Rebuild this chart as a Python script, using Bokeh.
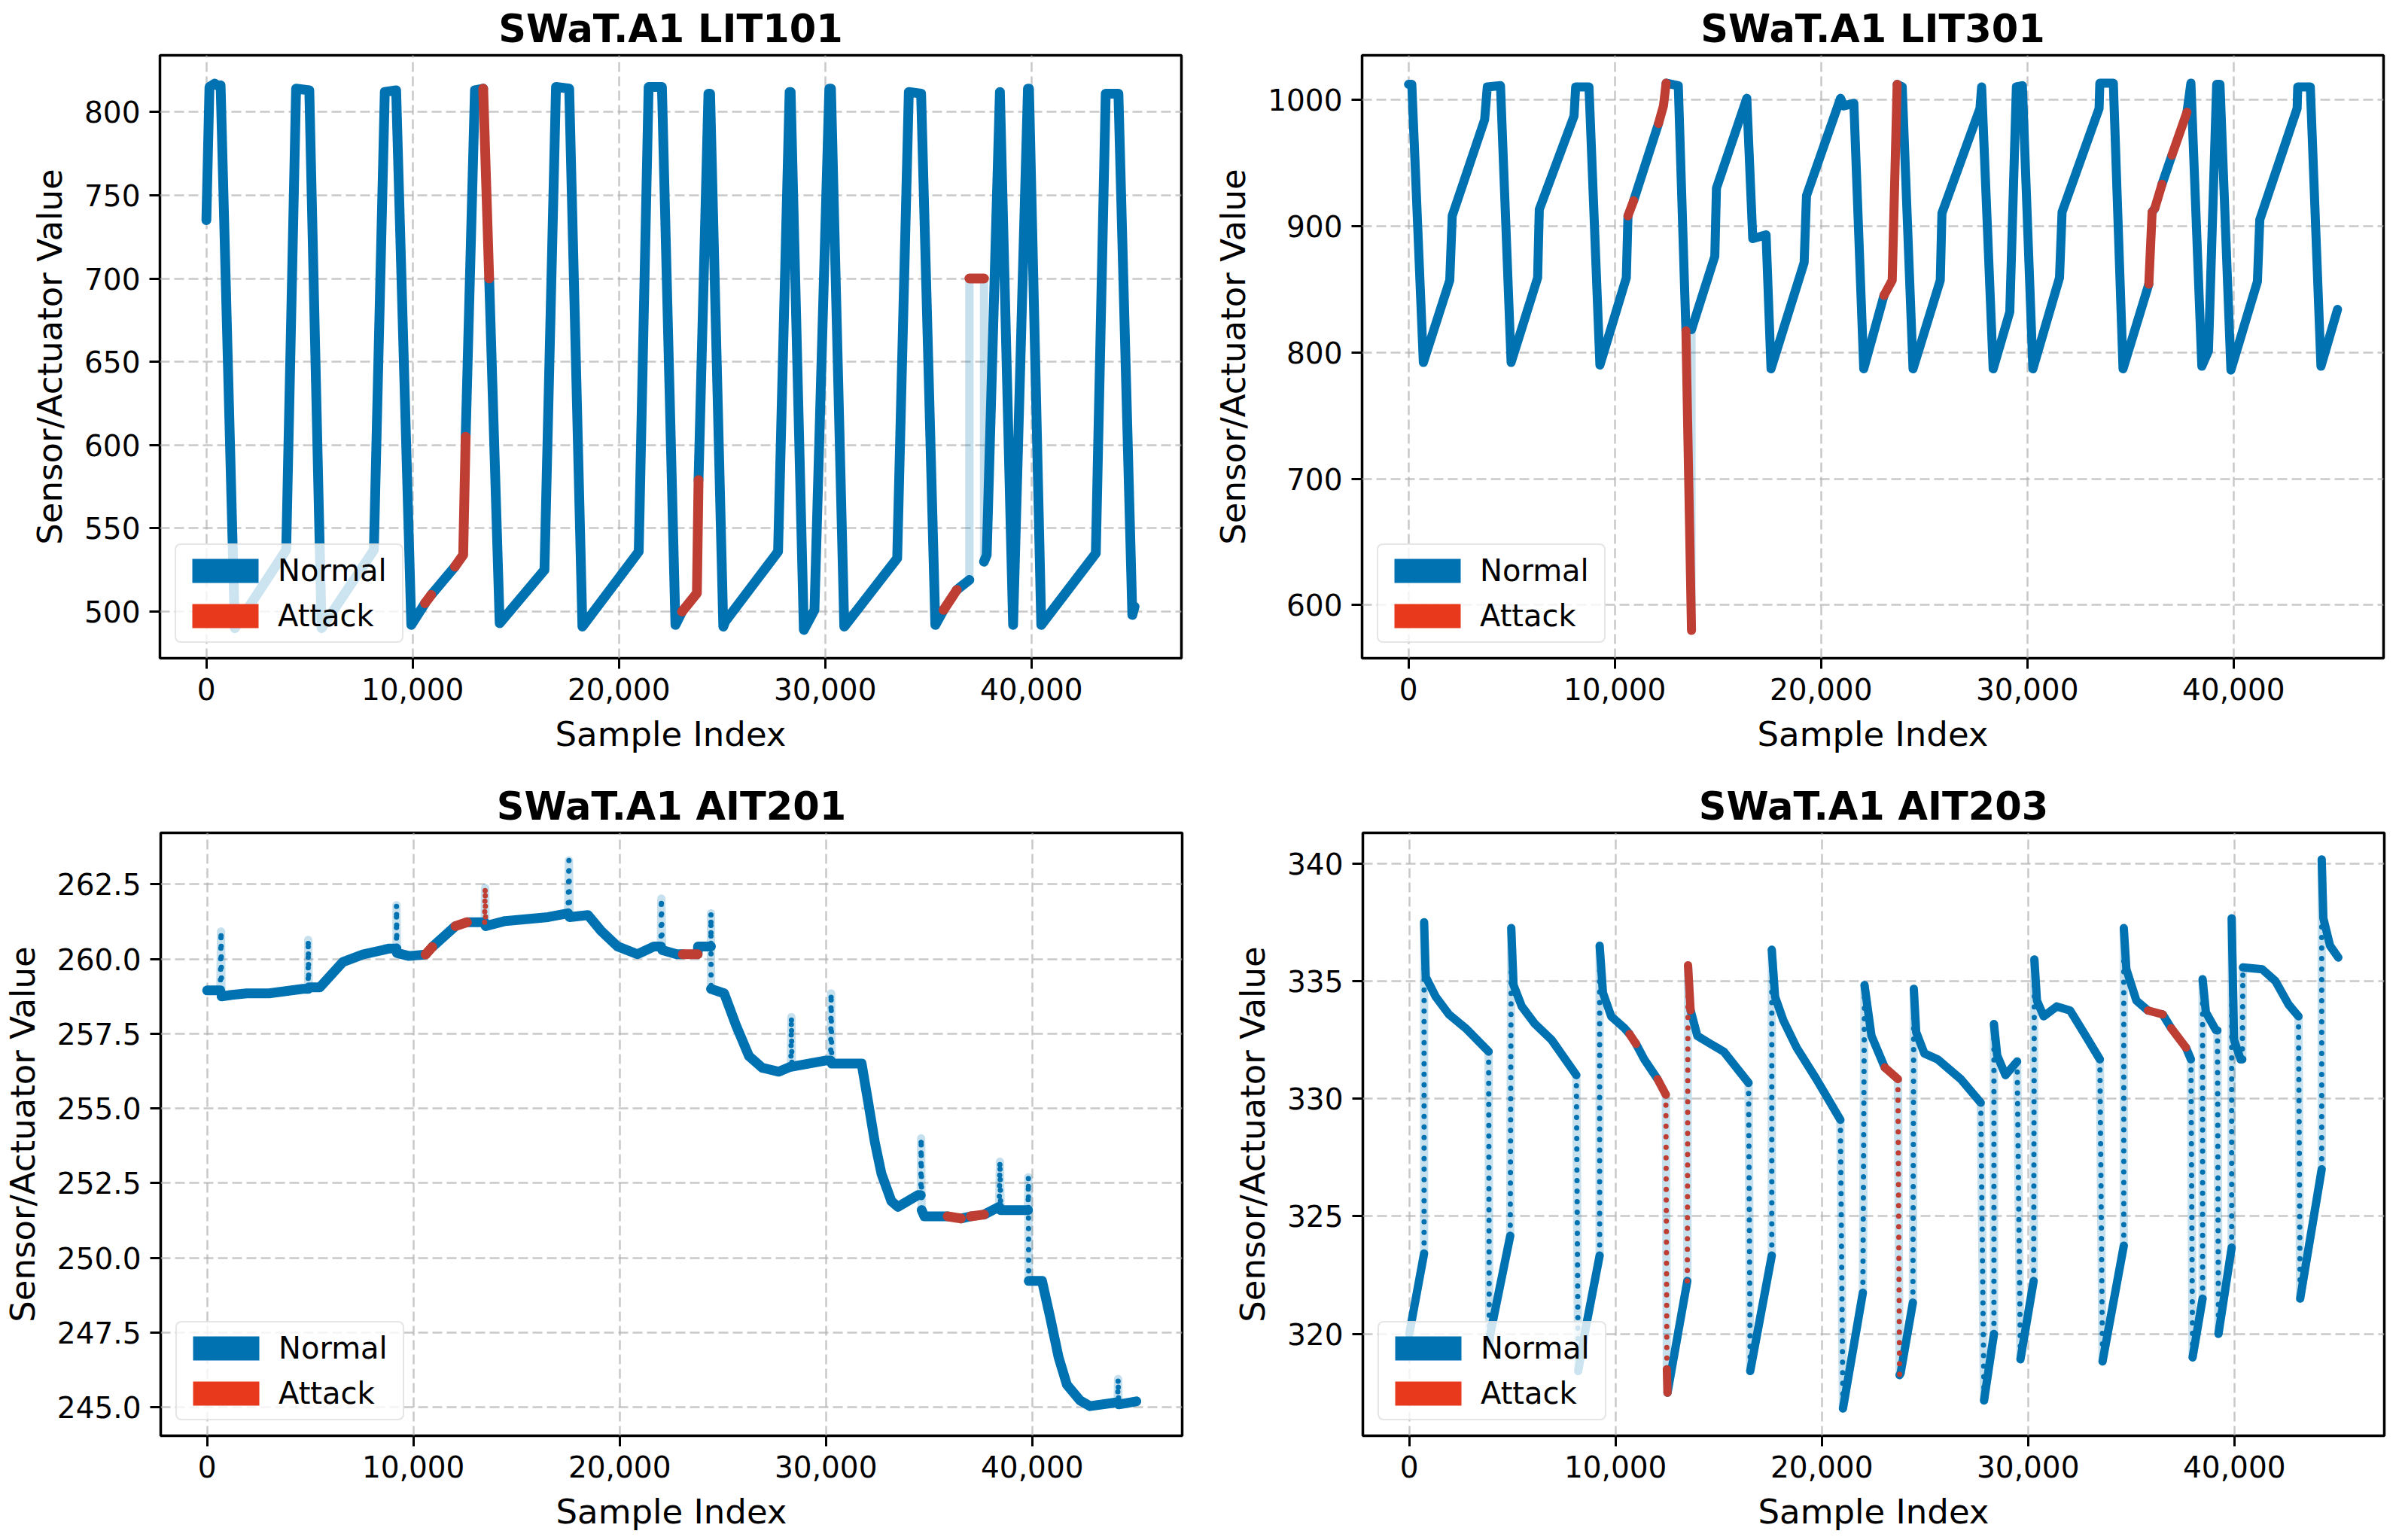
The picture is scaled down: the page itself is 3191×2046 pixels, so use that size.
from bokeh.plotting import figure
from bokeh.models import FixedTicker, NumeralTickFormatter, Legend, LegendItem, Range1d
from bokeh.layouts import column, row
from bokeh.embed import file_html
from bokeh.resources import INLINE

# ---------------- data (vertices) ----------------
# K gives the kind of the segment that starts at each vertex:
# n = normal dense, a = attack dense, j = normal sparse jump,
# r = attack sparse jump, g = gap (connecting line only), - = end
LIT101_X = [0, 150, 400, 660, 690, 1380, 3870, 4350,
            4990, 5585, 8120, 8650, 9200, 9935, 10600, 10900,
            12050, 12450, 12570, 13020, 13420, 13710, 14220, 16390,
            16950, 17590, 18230, 20960, 21440, 22085, 22740, 23060,
            23780, 23860, 24340, 24420, 25060, 25150, 27715, 28275,
            28325, 28965, 29480, 30200, 30280, 30925, 33490, 34055,
            34650, 35340, 35740, 36380, 36990, 36990, 37700, 37700,
            37830, 38470, 39110, 39830, 39880, 40475, 43120, 43600,
            44215, 44890, 45000]
LIT101_Y = [735, 815, 817, 815, 816, 490, 537, 814,
            813, 490, 537, 812, 813, 492, 505, 510,
            527, 534, 605, 813, 814, 700, 493, 525,
            815, 814, 491, 536, 815, 815, 492, 500,
            511, 579, 811, 811, 491, 494, 536, 812,
            812, 489, 501, 814, 814, 491, 532, 812,
            811, 492, 501, 513, 519, 700, 700, 530,
            534, 812, 492, 814, 814, 492, 535, 811,
            811, 498, 503]
LIT101_K = ("nnnnnnnn" "nnnnnnan" "aannannn" "nnnnnnna" "annnnnnn"
            "nnnnnnnn" "nnangagn" "nnnnnnnn" "nn-")

LIT301_X = [0, 160, 720, 2000, 2120, 3690, 3820, 4460,
            4975, 6260, 6340, 8025, 8105, 8750, 9280, 10560,
            10640, 10915, 12120, 12360, 12490, 13080, 13450, 13720,
            13720, 14850, 14930, 16400, 16690, 17335, 17575, 19180,
            19295, 20945, 21100, 21590, 22070, 23050, 23450, 23690,
            23935, 24460, 25780, 25860, 27705, 27785, 28345, 29150,
            29470, 29760, 30270, 31560, 31685, 33480, 33515, 34170,
            34640, 35890, 36050, 36180, 36530, 37010, 37740, 37930,
            38460, 38780, 39180, 39340, 39870, 41155, 41270, 43080,
            43110, 43720, 44235, 45040]
LIT301_Y = [1012, 1012, 792, 857, 908, 984, 1010, 1011,
            792, 859, 913, 987, 1010, 1010, 790, 859,
            908, 920, 981, 995, 1013, 1011, 817, 580,
            818, 876, 930, 1001, 890, 893, 787, 871,
            924, 1001, 995, 997, 787, 845, 857, 1012,
            1010, 787, 857, 910, 993, 1010, 787, 832,
            1010, 1011, 787, 859, 911, 993, 1013, 1013,
            787, 854, 911, 914, 933, 956, 990, 1013,
            789, 801, 1012, 1012, 786, 856, 905, 993,
            1010, 1010, 789, 834]
LIT301_K = ("nnnnnnnn" "nnnnnnnn" "anaannag" "nnnnnnnn" "nnnnnaan"
            "nnnnnnnn" "nnnnnnnn" "nananann" "nnnnnnnn" "nnn-")

AIT201_X = [0, 640, 675, 700, 1200, 1925, 3000, 4650,
            4900, 4900, 4930, 5460, 6580, 7545, 8830, 9180,
            9180, 9200, 9790, 10590, 10915, 12040, 12600, 13450,
            13480, 13500, 14445, 16530, 17500, 17540, 17575, 18460,
            19100, 19900, 20865, 21670, 22000, 22020, 22060, 22760,
            23060, 23780, 23800, 24425, 24425, 24430, 25065, 25630,
            26270, 26912, 27715, 28300, 28325, 28350, 29960, 30230,
            30250, 30280, 31730, 32050, 32370, 32690, 33170, 33490,
            34455, 34600, 34615, 34640, 34775, 35900, 36540, 37025,
            37665, 38400, 38435, 38470, 39800, 39815, 39830, 40475,
            40880, 41280, 41680, 42320, 42800, 44140, 44165, 44190,
            45050]
AIT201_Y = [258.95, 258.95, 260.92, 258.75, 258.8, 258.85, 258.85, 259.0,
            259.0, 260.64, 259.05, 259.05, 259.9, 260.15, 260.35, 260.35,
            261.8, 260.2, 260.1, 260.15, 260.4, 261.1, 261.23, 261.23,
            262.38, 261.1, 261.27, 261.4, 261.53, 263.3, 261.4, 261.47,
            260.94, 260.42, 260.16, 260.42, 260.42, 262.02, 260.3, 260.16,
            260.16, 260.16, 260.42, 260.42, 261.53, 259.0, 258.85, 257.8,
            256.75, 256.36, 256.23, 256.4, 258.06, 256.4, 256.6, 256.6,
            258.85, 256.5, 256.5, 255.2, 253.87, 252.82, 251.9, 251.71,
            252.1, 252.1, 254.0, 251.6, 251.39, 251.39, 251.32, 251.39,
            251.45, 251.71, 253.22, 251.6, 251.6, 252.7, 249.23, 249.23,
            247.98, 246.67, 245.76, 245.23, 245.04, 245.17, 245.95, 245.1,
            245.2]
AIT201_K = ("njjnnnnn" "jjnnnnnj" "jnnananr" "rnnnjjnn" "nnnnjjnn" "annjjnnn"
            "nnnjjnnj" "jnnnnnnn" "njjnnana" "njjnjjnn" "nnnnnjjn" "-")

AIT203_X = [0, 720, 720, 800, 1285, 1925, 2730, 3850,
            3880, 3930, 4895, 4945, 5055, 5457, 6100, 6900,
            8100, 8190, 8500, 9230, 9230, 9390, 9790, 10430,
            10675, 10995, 11395, 12040, 12440, 12490, 12520, 13480,
            13515, 13640, 13965, 14605, 15250, 16450, 16530, 17575,
            17575, 17735, 18135, 18780, 19740, 20900, 21025, 21990,
            22070, 22408, 23050, 23690, 23770, 23820, 24415, 24460,
            24575, 24975, 25620, 26740, 27705, 27865, 28345, 28345,
            28505, 28905, 29470, 29630, 30270, 30305, 30430, 30755,
            31395, 32035, 32680, 33480, 33610, 34640, 34640, 34765,
            35250, 35810, 36530, 36935, 37655, 37895, 37975, 38460,
            38460, 38620, 39100, 39180, 39230, 39870, 39870, 39985,
            40305, 40385, 40415, 41350, 41990, 42630, 43110, 43190,
            44235, 44235, 44315, 44640, 45040]
AIT203_Y = [320.0, 323.42, 337.5, 335.17, 334.33, 333.58, 333.0, 332.0,
            319.6, 320.0, 324.17, 337.25, 334.83, 333.92, 333.17, 332.5,
            331.0, 318.42, 320.0, 323.33, 336.5, 334.5, 333.5, 333.0,
            332.75, 332.33, 331.67, 330.83, 330.17, 318.5, 317.5, 322.25,
            335.67, 333.75, 332.67, 332.33, 332.0, 330.67, 318.42, 323.33,
            336.33, 334.33, 333.33, 332.17, 330.83, 329.1, 316.83, 321.75,
            334.83, 332.67, 331.33, 330.83, 318.25, 318.33, 321.33, 334.67,
            332.83, 331.92, 331.67, 330.83, 329.83, 317.17, 320.0, 333.17,
            331.83, 331.0, 331.58, 318.92, 322.25, 335.92, 334.17, 333.5,
            333.92, 333.75, 332.83, 331.67, 318.83, 323.75, 337.25, 335.5,
            334.17, 333.75, 333.58, 333.0, 332.17, 331.67, 319.0, 321.5,
            335.08, 333.67, 332.92, 332.9, 320.0, 323.67, 337.67, 332.5,
            331.67, 331.67, 335.58, 335.5, 335.0, 334.0, 333.5, 321.5,
            327.0, 340.17, 337.67, 336.5, 336.0]
AIT203_K = ("njnnnnnj" "nnjnnnnn" "jnnjnnnn" "annaranr" "annnnjnj" "nnnnnjnj"
            "nnarnnjn" "nnnnjnjn" "nnjnjnnn" "nnnjnjnn" "nananjnj" "nnnjnjnn"
            "njnnnnjn" "jnnn-")

TITLES = ["SWaT.A1 LIT101", "SWaT.A1 LIT301", "SWaT.A1 AIT201", "SWaT.A1 AIT203"]
X_TICKS = [0, 10000, 20000, 30000, 40000]
Y_TICKS = [[500, 550, 600, 650, 700, 750, 800],
           [600, 700, 800, 900, 1000],
           [245.0, 247.5, 250.0, 252.5, 255.0, 257.5, 260.0, 262.5],
           [320, 325, 330, 335, 340]]
Y_FORMATS = ["0", "0", "0.0", "0"]
Y_RANGES = [(472, 834), (558, 1035), (244.05, 264.22), (315.67, 341.3)]
X_RANGE = (-2250, 47270)
LEGEND_LABELS = ["Normal", "Attack"]

# ---------------- styling ----------------
BLUE = "#0072B2"
RED_PT = "#BF3E33"
RED_LEG = "#E8391D"
FONT = "DejaVu Sans"
FW, FH = 1357, 801
NAN = float("nan")


def polylines(xs, ys, kinds, codes):
    kinds = (kinds + "n" * len(xs))[:len(xs) - 1]
    outx, outy = [], []
    cx = cy = None
    for i, k in enumerate(kinds):
        if k in codes:
            if cx is None:
                cx, cy = [xs[i]], [ys[i]]
            cx.append(xs[i + 1])
            cy.append(ys[i + 1])
        else:
            if cx is not None:
                outx.append(cx)
                outy.append(cy)
                cx = cy = None
    if cx is not None:
        outx.append(cx)
        outy.append(cy)
    return outx, outy


def make_panel(idx, xs, ys, kinds, borders, dense_w):
    left, right, top, bottom = borders
    p = figure(frame_width=FW, frame_height=FH, output_backend="svg", toolbar_location=None,
               x_range=Range1d(*X_RANGE), y_range=Range1d(*Y_RANGES[idx]),
               min_border_left=left, min_border_right=right,
               min_border_top=top, min_border_bottom=bottom)
    p.title.text = TITLES[idx]
    p.title.align = "center"
    p.title.text_font = FONT
    p.title.text_font_size = "51px"
    p.title.text_font_style = "bold"
    p.title.text_color = "black"
    p.title.standoff = 12

    p.outline_line_color = "black"
    p.outline_line_width = 3.5
    p.outline_line_alpha = 1.0

    p.xaxis.ticker = FixedTicker(ticks=X_TICKS)
    p.xaxis.formatter = NumeralTickFormatter(format="0,0")
    p.yaxis.ticker = FixedTicker(ticks=Y_TICKS[idx])
    p.yaxis.formatter = NumeralTickFormatter(format=Y_FORMATS[idx])
    p.xaxis.axis_label = "Sample Index"
    p.yaxis.axis_label = "Sensor/Actuator Value"
    for ax in (p.xaxis, p.yaxis):
        ax.axis_line_color = None
        ax.major_tick_in = 0
        ax.major_tick_out = 14
        ax.major_tick_line_width = 3
        ax.major_tick_line_color = "black"
        ax.minor_tick_line_color = None
        ax.major_label_text_font = FONT
        ax.major_label_text_font_size = "39px"
        ax.major_label_text_color = "black"
        ax.axis_label_text_font = FONT
        ax.axis_label_text_font_size = "45px"
        ax.axis_label_text_font_style = "normal"
        ax.axis_label_text_color = "black"
        ax.axis_label_standoff = 16
        ax.major_label_standoff = 12

    p.grid.grid_line_color = "#b0b0b0"
    p.grid.grid_line_alpha = 0.7
    p.grid.grid_line_width = 2.5
    p.grid.grid_line_dash = "13 6"

    p.line(xs, ys, line_color=BLUE, line_alpha=0.22, line_width=11, line_join="round", line_cap="round")
    nx, ny = polylines(xs, ys, kinds, "n")
    p.multi_line(nx, ny, line_color=BLUE, line_width=dense_w, line_join="round", line_cap="round")
    jx, jy = polylines(xs, ys, kinds, "j")
    if jx:
        p.multi_line(jx, jy, line_color=BLUE, line_width=7, line_dash="0 14", line_cap="round")
    ax_, ay_ = polylines(xs, ys, kinds, "a")
    if ax_:
        p.multi_line(ax_, ay_, line_color=RED_PT, line_width=dense_w, line_join="round", line_cap="round")
    rx, ry = polylines(xs, ys, kinds, "r")
    if rx:
        p.multi_line(rx, ry, line_color=RED_PT, line_width=7, line_dash="0 14", line_cap="round")

    rn = p.quad(left=[NAN], right=[NAN], top=[NAN], bottom=[NAN], fill_color=BLUE, line_color=None)
    ra = p.quad(left=[NAN], right=[NAN], top=[NAN], bottom=[NAN], fill_color=RED_LEG, line_color=None)
    legend = Legend(items=[LegendItem(label=LEGEND_LABELS[0], renderers=[rn]),
                           LegendItem(label=LEGEND_LABELS[1], renderers=[ra])],
                    location="bottom_left")
    legend.margin = 20
    legend.padding = 10
    legend.spacing = 12
    legend.glyph_width = 110
    legend.glyph_height = 40
    legend.label_height = 48
    legend.label_standoff = 15
    legend.label_width = 155
    legend.label_text_font = FONT
    legend.label_text_font_size = "40px"
    legend.label_text_color = "black"
    legend.border_line_color = "#cccccc"
    legend.border_line_width = 2
    legend.background_fill_color = "white"
    legend.background_fill_alpha = 0.8
    if "border_radius" in Legend.properties():
        legend.border_radius = 8
    p.add_layout(legend)
    return p


p1 = make_panel(0, LIT101_X, LIT101_Y, LIT101_K, (212, 10, 70, 130), 13)
p2 = make_panel(1, LIT301_X, LIT301_Y, LIT301_K, (230, 6, 70, 130), 12)
p3 = make_panel(2, AIT201_X, AIT201_Y, AIT201_K, (212, 10, 102, 125), 13)
p4 = make_panel(3, AIT203_X, AIT203_Y, AIT203_K, (230, 6, 102, 125), 11)

layout = column(row(p1, p2), row(p3, p4))
open("out.html", "w").write(file_html(layout, INLINE))
